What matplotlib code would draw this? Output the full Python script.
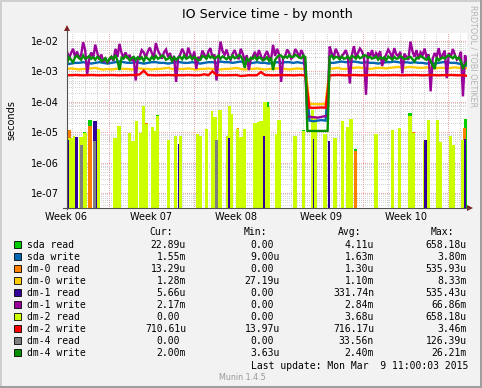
import numpy as np
import matplotlib
matplotlib.use("Agg")
import matplotlib.pyplot as plt
from matplotlib.patches import Rectangle, Polygon
from matplotlib.lines import Line2D

W, H = 482, 388

# write service times, one reading every 8 hours over the 33 days shown (ms)
sda_write = [1.7, 1.8, 1.9, 1.9, 2.0, 1.9, 1.8, 1.9, 2.0, 1.9,
             1.8, 1.9, 2.0, 2.1, 2.0, 1.9, 1.9, 2.0, 1.9, 1.8,
             1.9, 2.0, 2.0, 1.9, 1.9, 1.8, 1.9, 2.0, 2.0, 1.9,
             1.9, 2.0, 1.9, 1.8, 1.9, 2.0, 2.0, 1.9, 2.1, 2.0,
             2.0, 1.9, 2.0, 2.1, 1.9, 1.8, 1.9, 2.0, 1.9, 1.9,
             1.8, 1.9, 2.0, 1.9, 2.0, 2.0, 1.9, 2.0, 1.9, 1.8,
             0.024, 0.023, 0.024, 0.025, 0.024, 1.9, 1.9, 2.0, 2.1, 2.0,
             2.0, 2.1, 2.0, 1.9, 2.0, 1.9, 1.9, 1.8, 1.9, 2.0,
             2.0, 2.1, 2.0, 1.9, 2.0, 1.9, 2.0, 1.9, 1.9, 1.8,
             1.9, 1.8, 1.9, 2.0, 2.0, 1.9, 1.9, 1.8, 1.6, 1.55]
dm0_write = [1.2, 1.25, 1.2, 1.15, 1.2, 1.2, 1.25, 1.3, 1.2, 1.15,
             1.2, 1.15, 1.2, 1.25, 1.2, 1.2, 1.15, 1.2, 1.25, 1.2,
             1.2, 1.15, 1.2, 1.2, 1.25, 1.3, 1.2, 1.15, 1.2, 1.2,
             1.25, 1.2, 1.15, 1.2, 1.2, 1.25, 1.2, 1.2, 1.15, 1.2,
             1.2, 1.25, 1.3, 1.2, 1.15, 1.2, 1.2, 1.25, 1.2, 1.15,
             1.2, 1.2, 1.25, 1.2, 1.2, 1.15, 1.2, 1.25, 1.2, 1.2,
             0.084, 0.085, 0.083, 0.084, 0.085, 1.2, 1.25, 1.3, 1.2, 1.2,
             1.25, 1.3, 1.35, 1.3, 1.25, 1.2, 1.25, 1.3, 1.3, 1.25,
             1.3, 1.35, 1.4, 1.3, 1.35, 1.4, 1.35, 1.3, 1.3, 1.35,
             1.3, 1.25, 1.3, 1.3, 1.25, 1.3, 1.35, 1.3, 1.25, 1.28]
dm2_write = [0.74, 0.75, 0.76, 0.75, 0.74, 0.75, 0.76, 0.75, 0.74, 0.75,
             0.75, 0.76, 0.75, 0.74, 0.75, 0.75, 0.76, 0.75, 0.8, 1.05,
             0.76, 0.75, 0.74, 0.75, 0.75, 0.76, 0.75, 0.74, 0.75, 0.75,
             0.76, 0.75, 0.74, 0.75, 0.8, 0.75, 1.0, 0.76, 0.75, 0.74,
             0.75, 0.75, 0.76, 0.7, 0.72, 0.75, 0.74, 0.75, 0.95, 0.76,
             0.75, 0.74, 0.75, 0.76, 0.75, 0.75, 0.74, 0.75, 0.76, 0.72,
             0.064, 0.063, 0.064, 0.065, 0.064, 0.74, 0.75, 0.76, 0.75, 0.74,
             0.75, 0.76, 0.75, 0.74, 0.75, 0.75, 0.76, 0.75, 0.74, 0.75,
             0.75, 0.76, 0.75, 0.74, 0.75, 0.75, 0.76, 0.75, 0.74, 0.75,
             0.76, 0.75, 0.74, 0.75, 0.75, 0.76, 0.75, 0.74, 0.75, 0.71]

# the two noisy series are read twice as densely: readings on the 8 hour marks
# and the readings 4 hours later (ms)
dm1_write = [4.5, 4.0, 3.0, 2.6, 9.0, 0.8, 4.2, 7.5, 2.4, 2.0,
             1.8, 3.0, 5.5, 8.0, 2.8, 2.6, 2.2, 0.5, 3.0, 4.2,
             4.5, 4.0, 8.5, 3.6, 4.2, 3.0, 2.2, 0.45, 3.5, 4.0,
             6.0, 2.5, 1.2, 2.4, 3.5, 4.5, 2.8, 0.5, 9.5, 3.5,
             3.0, 3.8, 3.2, 5.5, 2.2, 1.1, 3.0, 2.6, 3.2, 3.4,
             3.0, 7.4, 5.5, 0.45, 3.2, 4.0, 3.0, 4.2, 5.0, 0.75,
             0.033, 0.031, 0.030, 0.032, 0.034, 6.5, 2.8, 4.0, 3.2, 5.0,
             0.4, 6.7, 4.0, 4.5, 0.17, 3.0, 2.6, 3.2, 1.5, 3.6,
             4.0, 5.8, 3.2, 0.85, 3.0, 9.5, 3.0, 2.5, 3.4, 2.8,
             0.22, 4.0, 5.8, 3.5, 0.6, 3.0, 3.5, 2.8, 0.15, 2.17]
dm1_write_half = [2.6, 5.5, 4.5, 3.5, 5.0, 2.5, 2.8, 4.0, 3.6, 2.8,
                  2.4, 2.2, 3.0, 4.0, 4.2, 3.5, 3.0, 2.6, 5.0, 2.8,
                  6.0, 2.9, 4.8, 2.6, 5.2, 4.0, 3.2, 2.8, 5.5, 2.6,
                  3.8, 4.5, 3.0, 4.8, 2.6, 5.8, 3.6, 2.8, 4.6, 5.2,
                  2.4, 5.0, 2.5, 3.8, 3.4, 2.5, 4.4, 5.0, 2.2, 4.6,
                  2.4, 3.2, 3.6, 2.8, 5.2, 2.6, 5.4, 2.8, 3.5, 0.032,
                  0.031, 0.031, 0.031, 0.033, 0.034, 4.0, 5.5, 2.5, 3.8, 3.0,
                  3.4, 3.0, 5.6, 3.0, 4.2, 5.0, 4.0, 4.6, 2.6, 5.2,
                  2.8, 3.6, 4.4, 3.8, 2.4, 4.6, 5.0, 4.2, 5.6, 3.6,
                  2.6, 3.0, 2.6, 4.8, 4.0, 5.4, 2.4, 4.4, 3.4]
dm4_write = [1.8, 2.4, 2.9, 2.7, 3.3, 2.8, 2.6, 2.4, 2.7, 2.3,
             2.0, 3.0, 3.4, 1.1, 2.6, 2.9, 2.7, 2.4, 2.5, 2.2,
             2.6, 3.0, 3.2, 2.8, 3.1, 2.6, 2.2, 2.4, 3.0, 3.3,
             2.8, 2.5, 2.7, 2.4, 3.0, 3.4, 3.1, 2.9, 2.6, 2.8,
             3.0, 3.3, 2.9, 3.1, 1.3, 2.2, 2.6, 2.4, 2.7, 2.5,
             2.2, 1.1, 2.9, 3.3, 3.1, 3.4, 3.0, 3.2, 2.7, 2.9,
             0.011, 0.011, 0.011, 0.011, 0.011, 3.0, 2.6, 2.9, 3.1, 2.7,
             2.5, 3.0, 3.2, 2.9, 3.3, 3.0, 2.8, 2.4, 2.6, 2.3,
             2.8, 3.0, 2.7, 2.9, 2.6, 3.0, 2.1, 2.7, 2.9, 2.4,
             2.2, 1.2, 2.3, 2.9, 3.1, 3.0, 3.2, 2.8, 1.3, 2.0]
dm4_write_half = [2.9, 2.0, 3.3, 2.4, 2.6, 3.2, 2.9, 3.0, 2.2, 2.7,
                  2.6, 2.5, 2.2, 2.8, 3.2, 2.3, 3.0, 2.9, 2.9, 3.0,
                  2.3, 2.5, 2.6, 3.3, 2.4, 3.0, 2.9, 2.8, 2.5, 2.6,
                  3.2, 3.0, 2.3, 3.2, 2.6, 2.8, 2.6, 3.3, 3.1, 2.5,
                  2.6, 2.7, 3.4, 2.4, 2.6, 2.8, 3.1, 2.9, 2.3, 2.9,
                  2.8, 2.4, 3.4, 2.7, 2.8, 3.0, 3.5, 2.8, 3.3, 0.011,
                  0.011, 0.011, 0.011, 0.011, 0.011, 3.3, 3.0, 2.5, 2.6, 3.1,
                  3.2, 2.6, 2.7, 3.4, 2.8, 2.6, 3.1, 2.9, 2.9, 3.1,
                  2.4, 2.6, 3.2, 2.5, 2.9, 2.5, 2.8, 3.2, 2.6, 2.9,
                  1.6, 2.9, 2.6, 2.6, 3.4, 2.7, 2.6, 2.1, 1.6]

# read service times are zero most of the time: busy spells (start day, end day, us)
dm2_read_start = [0.08, 0.50, 0.99, 1.32, 2.39, 3.80, 4.13, 5.03, 5.28, 5.61,
                  5.94, 6.19, 6.44, 6.93, 7.18, 7.34, 8.25, 8.83, 9.24, 10.64,
                  10.89, 11.39, 11.88, 12.05, 12.46, 13.12, 13.28, 13.53, 13.94, 14.19,
                  14.52, 15.35, 15.68, 15.84, 16.17, 16.50, 17.16, 17.33, 18.65, 19.39,
                  20.13, 20.38, 21.12, 21.95, 22.61, 23.02, 23.27, 25.33, 26.73, 27.31,
                  28.14, 28.47, 29.37, 29.70, 30.45, 30.69, 31.52, 31.77, 32.51]
dm2_read_end = [0.50, 0.66, 1.32, 1.65, 2.72, 4.13, 4.46, 5.28, 5.61, 5.86,
                6.19, 6.44, 6.68, 7.18, 7.34, 7.59, 8.50, 9.08, 9.49, 10.89,
                11.14, 11.63, 12.05, 12.38, 12.79, 13.28, 13.53, 13.70, 14.19, 14.52,
                14.77, 15.68, 15.84, 16.17, 16.50, 16.75, 17.33, 17.66, 18.98, 19.64,
                20.38, 20.63, 21.45, 22.28, 22.85, 23.27, 23.60, 25.66, 26.98, 27.56,
                28.47, 28.71, 29.70, 29.95, 30.69, 30.94, 31.77, 32.01, 32.76]
dm2_read_us = [6.3, 7.8, 7.2, 9.5, 13, 6.3, 16.6, 9.3, 5.3, 23,
               9.3, 75, 18, 15, 11, 35, 5.6, 7.8, 7.8, 8.8,
               7.5, 13, 49, 32, 52, 7.5, 75, 41, 13, 7,
               13, 20, 21, 23, 100, 65, 8.8, 26, 7.8, 11,
               52, 32, 8.8, 6.3, 24, 15, 27, 8.8, 12, 14,
               35, 9.3, 5.3, 26, 26, 4.6, 7.8, 3.8, 5.6]

sda_read_start = [1.32, 1.73, 5.61, 7.34, 16.33, 19.39, 23.68, 28.14, 32.76]
sda_read_end = [1.57, 2.06, 5.86, 7.59, 16.66, 19.64, 23.93, 28.47, 33.0]
sda_read_us = [10.5, 26, 24, 38, 95, 12, 2.8, 44, 28]

dm0_read_start = [0.0, 1.73, 6.44, 14.03, 15.76, 23.68, 28.47, 30.53, 32.67]
dm0_read_end = [0.33, 2.06, 6.68, 14.19, 16.01, 23.93, 28.71, 30.69, 32.92]
dm0_read_us = [12, 16.6, 20, 14, 22, 2.5, 10.5, 9, 14]

dm1_read_start = [0.0, 0.66, 2.14, 9.12, 13.28, 16.17, 20.26, 21.53, 29.46, 32.76]
dm1_read_end = [0.17, 0.91, 2.48, 9.24, 13.41, 16.34, 20.38, 21.70, 29.70, 32.92]
dm1_read_us = [5.7, 7.2, 24, 4.2, 6.3, 7.8, 6.0, 5.0, 5.7, 6.0]

dm4_read_start = [1.07, 2.14, 12.21]
dm4_read_end = [1.32, 2.39, 12.46]
dm4_read_us = [3.9, 5.0, 5.7]

week_labels = ['Week 06', 'Week 07', 'Week 08', 'Week 09', 'Week 10']
first_week_mid = -0.05  # day offset of the middle of week 06

legend_names = ['sda read', 'sda write', 'dm-0 read', 'dm-0 write', 'dm-1 read',
                'dm-1 write', 'dm-2 read', 'dm-2 write', 'dm-4 read', 'dm-4 write']
legend_colors = ['#00CC00', '#0066B3', '#FF8000', '#FFCC00', '#330099',
                 '#990099', '#CCFF00', '#FF0000', '#808080', '#008F00']
cur_vals = ['22.89u', '1.55m', '13.29u', '1.28m', '5.66u', '2.17m', '0.00', '710.61u', '0.00', '2.00m']
min_vals = ['0.00', '9.00u', '0.00', '27.19u', '0.00', '0.00', '0.00', '13.97u', '0.00', '3.63u']
avg_vals = ['4.11u', '1.63m', '1.30u', '1.10m', '331.74n', '2.84m', '3.68u', '716.17u', '33.56n', '2.40m']
max_vals = ['658.18u', '3.80m', '535.93u', '8.33m', '535.43u', '66.86m', '658.18u', '3.46m', '126.39u', '26.21m']
col_heads = ['Cur:', 'Min:', 'Avg:', 'Max:']


def fx(x):
    return x / W


def fy(y):
    return 1 - y / H


def interleave(a, b):
    out = np.empty(len(a) + len(b))
    out[0::2] = a
    out[1::2] = b
    return out


fig = plt.figure(figsize=(W / 100, H / 100), dpi=100)
fig.patch.set_facecolor('#F2F2F2')
ax = fig.add_axes([fx(67), fy(208), 400 / W, 175 / H])
ax.set_facecolor('white')
ax.set_yscale('log')
ymin, ymax = 10 ** -7.49, 10 ** -1.74
ax.set_xlim(0, 33)
ax.set_ylim(ymin, ymax)
ax.minorticks_off()
for s in ax.spines.values():
    s.set_visible(False)

# grid, rrdtool style dotted
dots = (0, (1, 2))
minor_c = '#D4D4D4'
major_c = '#F0A8A8'
for k in range(-8, -1):
    for m in range(2, 10):
        ax.axhline(m * 10.0 ** k, color=minor_c, lw=0.72, ls=dots, antialiased=False, zorder=0.5)
    ax.axhline(10.0 ** k, color=major_c, lw=0.72, ls=dots, antialiased=False, zorder=0.6)
week_mid = first_week_mid + 7 * np.arange(len(week_labels))
week_edges = week_mid + 3.5
for d in np.arange(week_edges[0] - 3, 33, 1.0):
    if min(abs(week_edges - d)) > 0.1:
        ax.axvline(d, color=minor_c, lw=0.72, ls=dots, antialiased=False, zorder=0.5)
for d in week_edges:
    ax.axvline(d, color=major_c, lw=0.72, ls=dots, antialiased=False, zorder=0.6)


def busy(starts, ends, vals, color, z):
    s = np.array(starts)
    e = np.array(ends)
    v = np.array(vals) * 1e-6
    ax.bar(s, v - ymin, width=e - s, bottom=ymin, align='edge', color=color, lw=0, zorder=z)


busy(sda_read_start, sda_read_end, sda_read_us, legend_colors[0], 2.0)
busy(dm0_read_start, dm0_read_end, dm0_read_us, legend_colors[2], 2.1)
busy(dm2_read_start, dm2_read_end, dm2_read_us, legend_colors[6], 2.2)
busy(dm1_read_start, dm1_read_end, dm1_read_us, legend_colors[4], 2.3)
busy(dm4_read_start, dm4_read_end, dm4_read_us, legend_colors[8], 2.4)

t = np.arange(len(sda_write)) / 3.0
t_half = np.arange(2 * len(sda_write) - 1) / 6.0
series = [(t, sda_write, legend_colors[1]), (t, dm0_write, legend_colors[3]),
          (t_half, interleave(dm1_write, dm1_write_half), legend_colors[5]),
          (t, dm2_write, legend_colors[7]),
          (t_half, interleave(dm4_write, dm4_write_half), legend_colors[9])]
for tt, vals, c in series:
    ax.plot(tt, np.asarray(vals) * 1e-3, color=c, lw=1.7, zorder=3, solid_joinstyle='miter')

# tick labels
ax.set_yticks([10.0 ** k for k in range(-7, -1)],
              ['1e-%02d' % -k for k in range(-7, -1)])
ax.tick_params(axis='y', length=0, pad=6, labelsize=7)
ax.set_xticks([])
for pos, lab in zip(week_mid, week_labels):
    ax.text(pos, -0.022, lab, transform=ax.get_xaxis_transform(), ha='center', va='top',
            fontsize=7, clip_on=False)

# axes with arrow heads
fig.add_artist(Line2D([fx(67), fx(67)], [fy(209), fy(30)], color='#505050', lw=0.8))
fig.add_artist(Line2D([fx(63), fx(469)], [fy(208), fy(208)], color='#505050', lw=0.8))
fig.add_artist(Polygon([[fx(64), fy(31)], [fx(70), fy(31)], [fx(67), fy(25)]], closed=True,
                       color='#801F1F', lw=0))
fig.add_artist(Polygon([[fx(467), fy(205)], [fx(467), fy(211)], [fx(473), fy(208)]], closed=True,
                       color='#801F1F', lw=0))

fig.text(fx(267), fy(18.3), 'IO Service time - by month', ha='center', va='baseline', fontsize=9.1)
fig.text(fx(11.5), fy(120.5), 'seconds', rotation=90, ha='center', va='center', fontsize=7)
fig.text(fx(473.5), fy(56.5), 'RRDTOOL / TOBI OETIKER', rotation=270, ha='center', va='center',
         fontsize=5.8, color='#B4B4B4')

# legend table
mono = 'DejaVu Sans Mono'
cw = 5.85
col_ends = [186, 280, 374, 466.7]
for head, ce in zip(col_heads, col_ends):
    fig.text(fx(ce - 13), fy(235.4), head, ha='right', va='baseline', fontsize=7, family=mono)
for i, name in enumerate(legend_names):
    yc = 244.3 + 12 * i
    fig.add_artist(Rectangle((fx(13.5), fy(yc + 3.5)), 7 / W, 7 / H, facecolor=legend_colors[i],
                             edgecolor='black', lw=0.6))
    fig.text(fx(26.7), fy(yc + 3.7), name, ha='left', va='baseline', fontsize=7, family=mono)
    for vals, ce in zip([cur_vals, min_vals, avg_vals, max_vals], col_ends):
        v = vals[i]
        x = ce if v[-1].isalpha() else ce - cw
        fig.text(fx(x), fy(yc + 3.7), v, ha='right', va='baseline', fontsize=7, family=mono)
fig.text(fx(468.3), fy(368.7), 'Last update: Mon Mar  9 11:00:03 2015', ha='right', va='baseline',
         fontsize=7, family=mono)
fig.text(fx(242), fy(380), 'Munin 1.4.5', ha='center', va='baseline', fontsize=5.8, color='#9A9A9A')

# rrdtool frame shading
fig.add_artist(Rectangle((0, 0), fx(2), 1, facecolor='#CFCFCF', lw=0))
fig.add_artist(Rectangle((0, fy(2)), 1, 2 / H, facecolor='#CFCFCF', lw=0))
fig.add_artist(Rectangle((fx(479.5), 0), 2.5 / W, 1, facecolor='#9E9E9E', lw=0))
fig.add_artist(Rectangle((0, 0), 1, 2.5 / H, facecolor='#9E9E9E', lw=0))

fig.savefig('out.png', dpi=100, facecolor=fig.get_facecolor())
